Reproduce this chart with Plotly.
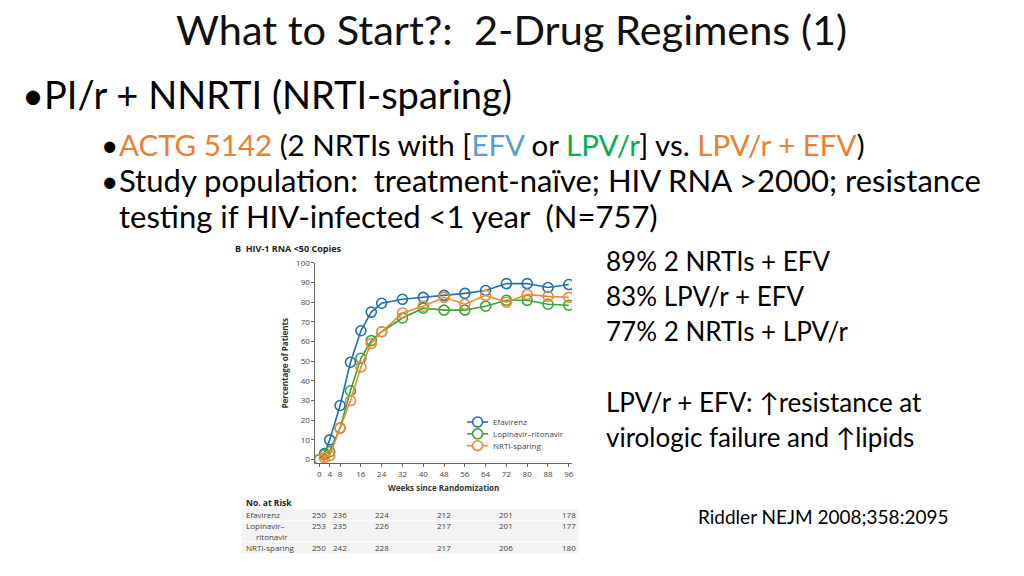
import plotly.graph_objects as go

weeks = [0, 2, 4, 8, 12, 16, 20, 24, 32, 40, 48, 56, 64, 72, 80, 88, 96]
efavirenz = [0, 3, 10, 27.5, 49.5, 65.5, 75, 79.5, 81.5, 82.5, 83.5, 84.5, 86, 89.5, 89.5, 87.5, 89]
lopinavir = [0, 2.5, 4, 16, 35, 51.5, 60.5, 65, 72, 77, 76, 76, 78, 81, 81, 79, 78.5]
nrti_sparing = [0, 1, 2, 16, 30, 47, 59, 65, 74.5, 78, 82.5, 79, 83.5, 80, 84, 83, 82.5]

series_names = ["Efavirenz", "Lopinavir\u2013ritonavir", "NRTI-sparing"]
series_colors = ["#1f6fb4", "#3aa53a", "#ef8a35"]

x_ticks = [0, 4, 8, 16, 24, 32, 40, 48, 56, 64, 72, 80, 88, 96]
y_ticks = [0, 10, 20, 30, 40, 50, 60, 70, 80, 90, 100]

risk_weeks = [0, 8, 24, 48, 72, 96]
risk_efv = [250, 236, 224, 212, 201, 178]
risk_lpv = [253, 235, 226, 217, 201, 177]
risk_nrti = [250, 242, 228, 217, 206, 180]

W, H = 1024, 576
OFF = 8  # page body margin
FONT = "Lato"
CHART_FONT = "Open Sans"

def px(x):
    return (x - OFF) / W

def py(y):
    return 1 - (y - OFF) / H

fig = go.Figure()
for name, vals, col in zip(series_names, [efavirenz, lopinavir, nrti_sparing], series_colors):
    fig.add_trace(go.Scatter(
        x=weeks, y=vals, name=name, mode="lines+markers",
        line=dict(color=col, width=1.6),
        marker=dict(symbol="circle-open", size=10, color=col, line=dict(width=1.6, color=col)),
        showlegend=False,
    ))

fig.update_layout(
    width=W, height=H,
    margin=dict(l=0, r=0, t=0, b=0),
    paper_bgcolor="white", plot_bgcolor="white",
    xaxis=dict(domain=[px(316), px(573)], range=[-1.5, 97.2],
               tickvals=x_ticks, ticks="outside", ticklen=3, tickcolor="#666",
               showline=True, linecolor="#666", linewidth=1, showgrid=False, zeroline=False,
               tickfont=dict(family=CHART_FONT, size=8, color="#444"),
               title=dict(text="<b>Weeks since Randomization</b>",
                          font=dict(family=CHART_FONT, size=8, color="#333"), standoff=7)),
    yaxis=dict(domain=[py(463), py(260)], range=[-2, 100],
               tickvals=y_ticks, ticks="outside", ticklen=3, tickcolor="#666",
               showline=True, linecolor="#666", linewidth=1, showgrid=False, zeroline=False,
               tickfont=dict(family=CHART_FONT, size=8, color="#444"),
               title=dict(text="<b>Percentage of Patients</b>",
                          font=dict(family=CHART_FONT, size=8, color="#333"), standoff=6)),
)

ann = []
shapes = []

def text(x, y, s, size, color="black", family=FONT, anchor="left"):
    ann.append(dict(x=px(x), y=py(y), xref="paper", yref="paper", text=s, showarrow=False,
                    xanchor=anchor, yanchor="middle",
                    font=dict(family=family, size=size, color=color)))

text(512, 23, "What to Start?:  2-Drug Regimens (1)", 41.5, "#111", anchor="center")
text(20, 89, "\u2022PI/r + NNRTI (NRTI-sparing)", 38)
text(99, 140, "\u2022", 30)
text(117, 140, "<span style='color:#ED7D31'>ACTG 5142</span> (2 NRTIs with [<span style='color:#5B9BD5'>EFV</span> or "
     "<span style='color:#00B050'>LPV/r</span>] vs. <span style='color:#ED7D31'>LPV/r + EFV</span>)", 29.5)
text(99, 176, "\u2022", 30)
text(117, 176, "Study population:  treatment-na\u00efve; HIV RNA >2000; resistance", 31)
text(117, 212, "testing if HIV-infected <1 year  (N=757)", 31)

right_lines = ["89% 2 NRTIs + EFV", "83% LPV/r + EFV", "77% 2 NRTIs + LPV/r", "",
               "LPV/r + EFV: \u2191resistance at", "virologic failure and \u2191lipids"]
for i, s in enumerate(right_lines):
    if s:
        text(605, 258 + i * 35.6, s, 26)

text(697, 517, "Riddler NEJM 2008;358:2095", 19)

# chart panel label
text(233, 245, "<b>B</b>  <b>HIV-1 RNA &lt;50 Copies</b>", 9, "#222", CHART_FONT)

# custom legend
for name, col, ly in zip(series_names, series_colors, [421, 433, 445]):
    shapes.append(dict(type="line", xref="paper", yref="paper", x0=px(468), x1=px(489),
                       y0=py(ly), y1=py(ly), line=dict(color=col, width=1.6)))
    shapes.append(dict(type="circle", xref="paper", yref="paper", x0=px(473.5), x1=px(483.5),
                       y0=py(ly + 5), y1=py(ly - 5), fillcolor="white", line=dict(color=col, width=1.6)))
    text(492, ly, name, 8, "#444", CHART_FONT)

# risk table
for y0, y1 in [(509, 521), (521, 542), (542, 554)]:
    shapes.append(dict(type="rect", xref="paper", yref="paper", x0=px(242), x1=px(580),
                       y0=py(y1), y1=py(y0), fillcolor="#f3f3f3", line=dict(width=0), layer="below"))
for yy in [521, 542]:
    shapes.append(dict(type="line", xref="paper", yref="paper", x0=px(242), x1=px(580),
                       y0=py(yy), y1=py(yy), line=dict(color="white", width=1)))

text(244, 503, "<b>No. at Risk</b>", 8.5, "#222", CHART_FONT)
text(244, 515, "Efavirenz", 8, "#444", CHART_FONT)
text(244, 526, "Lopinavir\u2013", 8, "#444", CHART_FONT)
text(254, 537, "ritonavir", 8, "#444", CHART_FONT)
text(244, 548, "NRTI-sparing", 8, "#444", CHART_FONT)
for row_y, vals in [(515, risk_efv), (526, risk_lpv), (548, risk_nrti)]:
    for wk, v in zip(risk_weeks, vals):
        ann.append(dict(x=wk, y=py(row_y), xref="x", yref="paper", text=str(v), showarrow=False,
                        xanchor="center", yanchor="middle",
                        font=dict(family=CHART_FONT, size=8, color="#444")))

fig.update_layout(annotations=ann, shapes=shapes)
fig.write_html("out.html")
